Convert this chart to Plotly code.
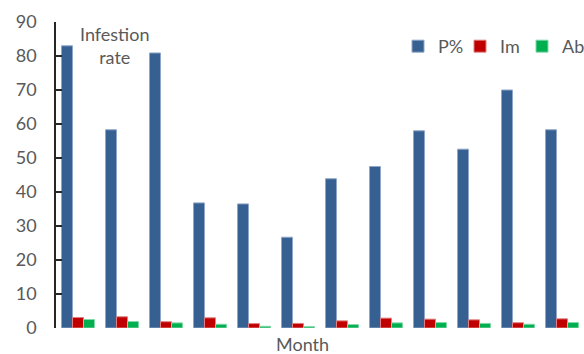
import plotly.graph_objects as go

months = ["1", "2", "3", "4", "5", "6", "7", "8", "9", "10", "11", "12"]
p_pct = [83.0, 58.3, 80.9, 36.8, 36.5, 26.7, 43.9, 47.5, 58.0, 52.6, 70.0, 58.3]
im = [3.1, 3.3, 1.85, 3.0, 1.3, 1.35, 2.1, 2.9, 2.6, 2.4, 1.55, 2.7]
ab = [2.5, 1.9, 1.5, 1.1, 0.5, 0.4, 1.0, 1.5, 1.6, 1.35, 1.1, 1.6]

series = [
    ("P%", p_pct, "#376092", "#8FA6C8"),
    ("Im", im, "#C00000", "#E08080"),
    ("Ab", ab, "#00B050", "#80D8A8"),
]

FONT = "Lato"
GREY = "#595959"

fig = go.Figure()
for name, vals, col, edge in series:
    fig.add_trace(go.Bar(
        x=months, y=vals, name=name,
        marker=dict(color=col, line=dict(color=edge, width=1)),
    ))

fig.update_layout(
    width=584, height=354,
    margin=dict(l=56, r=0, t=22, b=26),
    paper_bgcolor="white", plot_bgcolor="white",
    barmode="group", bargap=0.25, bargroupgap=0,
    font=dict(family=FONT, size=18, color=GREY),
    showlegend=True,
    legend=dict(
        orientation="h", x=1.0, xanchor="right", y=0.92, yanchor="middle",
        font=dict(family=FONT, size=18, color=GREY),
        bgcolor="rgba(0,0,0,0)", itemwidth=30, entrywidth=17,
    ),
    xaxis=dict(
        showticklabels=False, ticks="", showline=False, showgrid=False,
        zeroline=False, range=[-0.5, 11.5],
    ),
    yaxis=dict(
        range=[0, 90], dtick=10, showgrid=False, zeroline=False,
        showline=True, linecolor="#262626", linewidth=1.5,
        ticks="inside", ticklen=6, tickwidth=1.5, tickcolor="#262626",
        ticklabelstandoff=14,
        tickfont=dict(family=FONT, size=18, color=GREY),
    ),
    annotations=[
        dict(text="Infestion<br>rate", xref="paper", yref="paper",
             x=(114 - 56) / 528, y=1.0 - (46 - 22) / 306, xanchor="center", yanchor="middle",
             showarrow=False, font=dict(family=FONT, size=18, color=GREY)),
        dict(text="Month", xref="paper", yref="paper",
             x=(302 - 56) / 528, y=-(344 - 328) / 306, xanchor="center", yanchor="middle",
             showarrow=False, font=dict(family=FONT, size=18, color=GREY)),
    ],
)

fig.write_html("out.html")
